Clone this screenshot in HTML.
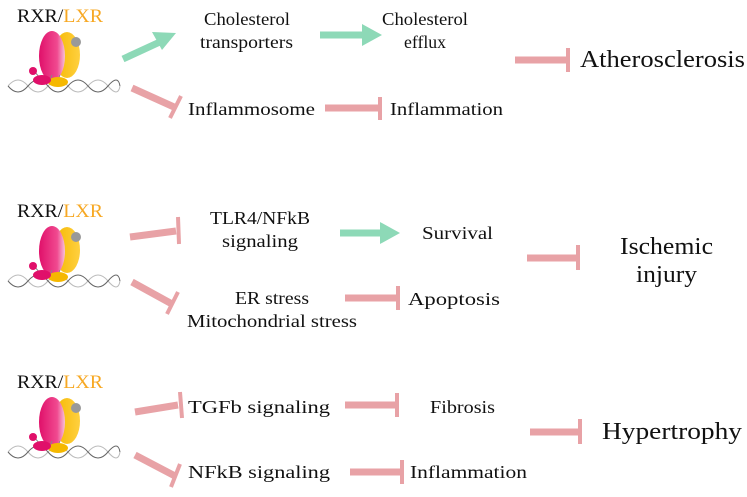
<!DOCTYPE html>
<html><head><meta charset="utf-8"><style>
body{margin:0;background:#fff}
svg text{font-family:"Liberation Serif",serif;fill:#111}
</style></head><body>
<svg width="747" height="492" viewBox="0 0 747 492" xmlns="http://www.w3.org/2000/svg">
<defs>
<linearGradient id="pk" x1="0" x2="1"><stop offset="0" stop-color="#e0106a"/><stop offset="0.7" stop-color="#f04a90"/><stop offset="1" stop-color="#f8c0d8"/></linearGradient>
<linearGradient id="yl" x1="0" x2="1"><stop offset="0" stop-color="#f5b800"/><stop offset="1" stop-color="#ffd040"/></linearGradient>
<g id="rx">
<text x="17" y="22" font-size="19" textLength="86" lengthAdjust="spacingAndGlyphs">RXR/<tspan style="fill:#f7a823">LXR</tspan></text>
<path d="M8 86 Q18 74 28 86 T48 86 T68 86 T88 86 T108 86 T120 86" fill="none" stroke="#bbb" stroke-width="1"/>
<path d="M8 86 Q18 98 28 86 T48 86 T68 86 T88 86 T108 86 T120 86" fill="none" stroke="#666" stroke-width="1"/>
<ellipse cx="67" cy="55" rx="13" ry="23" fill="url(#yl)"/>
<ellipse cx="52" cy="56" rx="13" ry="25" fill="url(#pk)"/>
<circle cx="76" cy="42" r="5" fill="#999"/>
<line x1="34" y1="71" x2="40" y2="78" stroke="#888"/>
<line x1="52" y1="75" x2="50" y2="80" stroke="#888"/>
<line x1="60" y1="75" x2="58" y2="80" stroke="#888"/>
<circle cx="33" cy="71" r="4" fill="#e0106a"/>
<ellipse cx="58" cy="82" rx="10" ry="5" fill="#f5b800"/>
<ellipse cx="42" cy="80" rx="9" ry="5" fill="#e0106a"/>
</g>
</defs>
<use href="#rx"/>
<use href="#rx" transform="translate(0,195)"/>
<use href="#rx" transform="translate(0,366)"/>

<g fill="none" stroke-width="7">
<g stroke="#8dd9b7">
<line x1="123" y1="59" x2="162" y2="41"/>
<line x1="320" y1="35" x2="365" y2="35"/>
<line x1="340" y1="233" x2="385" y2="233"/>
</g>
</g>
<g fill="#8dd9b7">
<polygon points="176,33 152,32 162,50"/>
<polygon points="382,35 362,24 362,46"/>
<polygon points="400,233 380,222 380,244"/>
</g>
<g stroke="#e8a2a6" fill="none">
<g stroke-width="7">
<line x1="132" y1="88" x2="174" y2="107"/>
<line x1="325" y1="108" x2="378" y2="108"/>
<line x1="515" y1="60" x2="566" y2="60"/>
<line x1="130" y1="237" x2="176" y2="231"/>
<line x1="132" y1="282" x2="172" y2="304"/>
<line x1="345" y1="298" x2="396" y2="298"/>
<line x1="527" y1="258" x2="577" y2="258"/>
<line x1="135" y1="412" x2="178" y2="405"/>
<line x1="345" y1="405" x2="396" y2="405"/>
<line x1="135" y1="455" x2="175" y2="476"/>
<line x1="350" y1="472" x2="400" y2="472"/>
<line x1="530" y1="432" x2="578" y2="432"/>
</g>
<g stroke-width="4">
<line x1="181" y1="96" x2="170" y2="118"/>
<line x1="380" y1="97" x2="380" y2="120"/>
<line x1="568" y1="48" x2="568" y2="72"/>
<line x1="178" y1="217" x2="179" y2="244"/>
<line x1="178" y1="292" x2="167" y2="314"/>
<line x1="398" y1="286" x2="398" y2="310"/>
<line x1="578" y1="245" x2="578" y2="270"/>
<line x1="180" y1="392" x2="182" y2="418"/>
<line x1="397" y1="393" x2="397" y2="417"/>
<line x1="180" y1="464" x2="171" y2="487"/>
<line x1="402" y1="460" x2="402" y2="484"/>
<line x1="580" y1="419" x2="580" y2="444"/>
</g>
</g>

<g font-size="18" lengthAdjust="spacingAndGlyphs">
<text x="204" y="25" textLength="86" lengthAdjust="spacingAndGlyphs">Cholesterol</text>
<text x="200" y="48" textLength="93" lengthAdjust="spacingAndGlyphs">transporters</text>
<text x="382" y="25" textLength="86" lengthAdjust="spacingAndGlyphs">Cholesterol</text>
<text x="404" y="48" textLength="42" lengthAdjust="spacingAndGlyphs">efflux</text>
<text x="188" y="115" textLength="127" lengthAdjust="spacingAndGlyphs">Inflammosome</text>
<text x="390" y="115" textLength="113" lengthAdjust="spacingAndGlyphs">Inflammation</text>
<text x="210" y="224" textLength="100" lengthAdjust="spacingAndGlyphs">TLR4/NFkB</text>
<text x="222" y="247" textLength="76" lengthAdjust="spacingAndGlyphs">signaling</text>
<text x="422" y="239" textLength="71" lengthAdjust="spacingAndGlyphs">Survival</text>
<text x="235" y="304" textLength="74" lengthAdjust="spacingAndGlyphs">ER stress</text>
<text x="187" y="327" textLength="170" lengthAdjust="spacingAndGlyphs">Mitochondrial stress</text>
<text x="408" y="305" textLength="92" lengthAdjust="spacingAndGlyphs">Apoptosis</text>
<text x="188" y="413" textLength="142" lengthAdjust="spacingAndGlyphs">TGFb signaling</text>
<text x="430" y="413" textLength="65" lengthAdjust="spacingAndGlyphs">Fibrosis</text>
<text x="188" y="478" textLength="142" lengthAdjust="spacingAndGlyphs">NFkB signaling</text>
<text x="410" y="478" textLength="117" lengthAdjust="spacingAndGlyphs">Inflammation</text>
</g>
<g font-size="24">
<text x="580" y="67" textLength="165" lengthAdjust="spacingAndGlyphs">Atherosclerosis</text>
<text x="620" y="254" textLength="93" lengthAdjust="spacingAndGlyphs">Ischemic</text>
<text x="636" y="282" textLength="61" lengthAdjust="spacingAndGlyphs">injury</text>
<text x="602" y="439" textLength="140" lengthAdjust="spacingAndGlyphs">Hypertrophy</text>
</g>
</svg>
</body></html>
